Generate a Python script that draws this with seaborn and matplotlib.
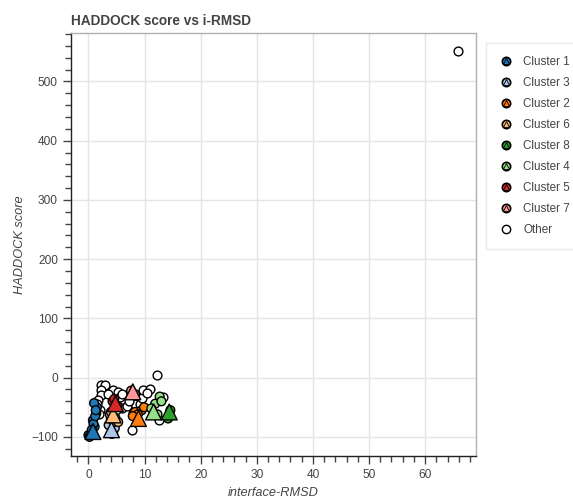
import pandas as pd
import matplotlib
matplotlib.use("Agg")
import matplotlib.pyplot as plt
import seaborn as sns
from matplotlib.lines import Line2D
from matplotlib.legend_handler import HandlerTuple
from matplotlib.ticker import MultipleLocator

# Datos (i-RMSD, HADDOCK score)
cluster_names = ["Cluster 1", "Cluster 3", "Cluster 2", "Cluster 6",
                 "Cluster 8", "Cluster 4", "Cluster 5", "Cluster 7"]
cluster_colors = ["#1f77b4", "#aec7e8", "#ff7f0e", "#ffbb78",
                  "#2ca02c", "#98df8a", "#d62728", "#ff9896"]

c1_x = [0.0, 0.2, 0.5, 0.8, 1.1, 1.4, 0.9, 1.2, 0.6, 1.5, 1.0, 1.3]
c1_y = [-97, -100, -94, -72, -83, -60, -78, -65, -88, -50, -43, -55]
c3_x = [3.6, 4.0, 4.4, 4.7, 3.8, 4.2, 4.5]
c3_y = [-80, -70, -92, -85, -62, -95, -75]
c2_x = [8.3, 9.5, 8.8, 9.9, 7.9]
c2_y = [-58, -55, -62, -50, -65]
c6_x = [5.3, 4.0, 4.8]
c6_y = [-75, -58, -68]
c8_x = [14.2, 14.6]
c8_y = [-69, -55]
c4_x = [11.9, 12.7, 11.2, 12.3, 13.0]
c4_y = [-44, -32, -52, -62, -40]
c5_x = [4.3, 5.2, 4.6]
c5_y = [-40, -48, -36]
c7_x = [7.6, 8.3]
c7_y = [-22, -28]

# mejor modelo de cada cluster (triangulos)
best_x = [0.8, 4.1, 8.9, 4.4, 14.4, 11.6, 4.8, 7.9]
best_y = [-91, -88, -69, -63, -58, -58, -44, -24]

other_x = [2.3, 2.9, 2.3, 2.3, 1.7, 2.0, 4.4, 5.3, 5.6, 5.9, 5.9, 7.7, 8.0, 8.3,
           9.2, 9.5, 9.8, 11.0, 12.3, 12.6, 13.3, 65.8, 1.5, 3.4, 6.9, 10.5,
           4.9, 7.2, 1.8]
other_y = [-12, -13, -21, -30, -37, -55, -21, -24, -32, -27, -52, -89, -60, -44,
           -44, -35, -21, -20, 4, -72, -32, 551, -45, -27, -48, -26,
           -54, -40, -62]

xs = [c1_x, c3_x, c2_x, c6_x, c8_x, c4_x, c5_x, c7_x]
ys = [c1_y, c3_y, c2_y, c6_y, c8_y, c4_y, c5_y, c7_y]

rows = []
for name, cx, cy in zip(cluster_names, xs, ys):
    for a, b in zip(cx, cy):
        rows.append({"irmsd": a, "score": b, "cluster": name})
df = pd.DataFrame(rows)
best = pd.DataFrame({"irmsd": best_x, "score": best_y, "cluster": cluster_names})
other = pd.DataFrame({"irmsd": other_x, "score": other_y})

sns.set_style("white")
plt.rcParams["font.family"] = ["Liberation Sans", "DejaVu Sans"]

palette = dict(zip(cluster_names, cluster_colors))
fig = plt.figure(figsize=(5.73, 4.98), dpi=100)
ax = fig.add_axes([0.124, 0.084, 0.707, 0.850])

sns.scatterplot(data=other, x="irmsd", y="score", color="white", edgecolor="black",
                linewidth=1, s=40, ax=ax, zorder=3)
sns.scatterplot(data=df, x="irmsd", y="score", hue="cluster", palette=palette,
                edgecolor="black", linewidth=1, s=40, ax=ax, legend=False, zorder=4)
sns.scatterplot(data=best, x="irmsd", y="score", hue="cluster", palette=palette,
                marker="^", edgecolor="black", linewidth=1, s=130, ax=ax,
                legend=False, zorder=5)

ax.set_xlim(-3.1, 69.1)
ax.set_ylim(-132.6, 582)
ax.xaxis.set_major_locator(MultipleLocator(10))
ax.xaxis.set_minor_locator(MultipleLocator(2))
ax.yaxis.set_major_locator(MultipleLocator(100))
ax.yaxis.set_minor_locator(MultipleLocator(20))
ax.grid(True, which="major", color="#e5e5e5", linewidth=1)
ax.set_axisbelow(True)
ax.tick_params(axis="both", which="major", direction="out", length=6, width=1,
               colors="#444444", labelsize=8.6, labelcolor="#444444")
ax.tick_params(axis="both", which="minor", direction="out", length=4, width=1,
               colors="#444444")
ax.tick_params(left=True, bottom=True, which="both")
for side in ["left", "bottom"]:
    ax.spines[side].set_color("#222222")
    ax.spines[side].set_linewidth(1)
for side in ["top", "right"]:
    ax.spines[side].set_color("#b0b0b0")
    ax.spines[side].set_linewidth(1)

ax.set_xlabel("interface-RMSD", fontsize=9.2, style="italic", color="#444444", labelpad=4)
ax.set_ylabel("HADDOCK score", fontsize=9.2, style="italic", color="#444444", labelpad=4)
ax.set_title("HADDOCK score vs i-RMSD", fontsize=9.8, fontweight="bold",
             color="#444444", loc="left", pad=6)

# leyenda: circulo + triangulo superpuestos como en bokeh
handles = []
for c in cluster_colors:
    circ = Line2D([], [], marker="o", linestyle="", markersize=6,
                  markerfacecolor=c, markeredgecolor="black", markeredgewidth=1.2)
    tri = Line2D([], [], marker="^", linestyle="", markersize=4,
                 markerfacecolor=c, markeredgecolor="black", markeredgewidth=0.6)
    handles.append((circ, tri))
handles.append(Line2D([], [], marker="o", linestyle="", markersize=6,
                      markerfacecolor="white", markeredgecolor="black",
                      markeredgewidth=1))
labels = cluster_names + ["Other"]
leg = fig.legend(handles, labels, handler_map={tuple: HandlerTuple(ndivide=1)},
                 loc="upper left", bbox_to_anchor=(0.848, 0.914), fontsize=8.4,
                 frameon=True, fancybox=False, labelspacing=0.78, handlelength=1.2,
                 handletextpad=0.9, borderpad=1.1, borderaxespad=0)
leg.get_frame().set_edgecolor("#e5e5e5")
leg.get_frame().set_linewidth(1)
for t in leg.get_texts():
    t.set_color("#444444")

fig.savefig("out.png", dpi=100)
